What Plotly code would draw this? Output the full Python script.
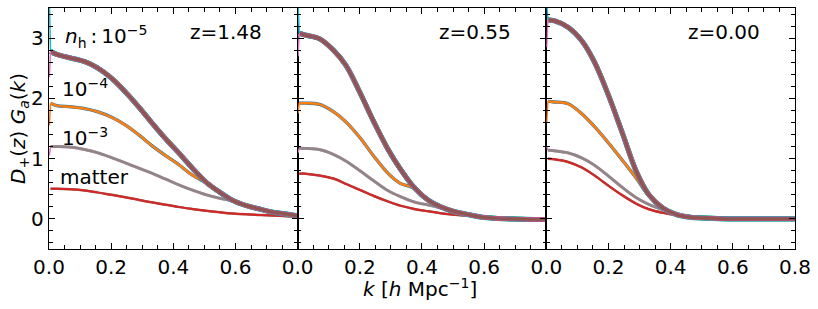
import plotly.graph_objects as go

# ---------------- data ----------------
K = [0.005, 0.025, 0.07, 0.115, 0.155, 0.2, 0.245, 0.29, 0.33, 0.375,
     0.42, 0.46, 0.505, 0.55, 0.59, 0.635, 0.68, 0.72, 0.765, 0.8]
K_LOW = 0.0012  # first (noisy) k bin

REDSHIFTS = ["z=1.48", "z=0.55", "z=0.00"]

# n_h = 1e-5 (noisy band of realisations)
NH5 = [
    [2.78, 2.73, 2.67, 2.61, 2.51, 2.34, 2.11, 1.85, 1.60, 1.33,
     1.08, 0.85, 0.61, 0.44, 0.31, 0.22, 0.16, 0.11, 0.08, 0.05],
    [3.08, 3.05, 2.99, 2.80, 2.55, 2.10, 1.61, 1.16, 0.83, 0.52,
     0.31, 0.20, 0.12, 0.07, 0.03, 0.01, 0.0, -0.005, -0.01, -0.01],
    [3.30, 3.29, 3.18, 2.95, 2.60, 2.05, 1.42, 0.78, 0.40, 0.18,
     0.07, 0.03, 0.015, 0.005, 0.0, 0.0, 0.0, 0.0, 0.0, 0.0],
]
# n_h = 1e-4
NH4 = [
    [1.92, 1.88, 1.86, 1.83, 1.78, 1.69, 1.56, 1.39, 1.22, 1.05,
     0.89, 0.73, 0.60, 0.43, 0.30, 0.21, 0.15, 0.10, 0.07, 0.045],
    [1.92, 1.92, 1.90, 1.78, 1.61, 1.35, 1.04, 0.76, 0.59, 0.51,
     0.30, 0.19, 0.11, 0.06, 0.025, 0.01, 0.0, -0.005, -0.01, -0.01],
    [1.95, 1.94, 1.91, 1.74, 1.53, 1.26, 0.97, 0.67, 0.38, 0.17,
     0.07, 0.03, 0.015, 0.005, 0.0, 0.0, 0.0, 0.0, 0.0, 0.0],
]
# n_h = 1e-3
NH3 = [
    [1.20, 1.20, 1.19, 1.15, 1.10, 1.02, 0.93, 0.84, 0.76, 0.66,
     0.56, 0.48, 0.40, 0.34, 0.30, 0.21, 0.15, 0.10, 0.07, 0.045],
    [1.17, 1.17, 1.15, 1.07, 0.96, 0.80, 0.63, 0.47, 0.37, 0.28,
     0.23, 0.18, 0.11, 0.06, 0.025, 0.01, 0.0, -0.005, -0.01, -0.01],
    [1.14, 1.13, 1.095, 1.01, 0.89, 0.71, 0.52, 0.35, 0.24, 0.15,
     0.08, 0.04, 0.02, 0.008, 0.0, 0.0, 0.0, 0.0, 0.0, 0.0],
]
# matter
MATTER = [
    [0.50, 0.50, 0.49, 0.47, 0.44, 0.40, 0.36, 0.315, 0.275, 0.235,
     0.195, 0.165, 0.135, 0.11, 0.09, 0.075, 0.065, 0.055, 0.045, 0.04],
    [0.75, 0.75, 0.72, 0.67, 0.58, 0.48, 0.38, 0.29, 0.22, 0.165,
     0.125, 0.095, 0.07, 0.05, 0.035, 0.02, 0.01, 0.005, 0.0, 0.0],
    [1.00, 0.99, 0.945, 0.85, 0.72, 0.55, 0.39, 0.25, 0.16, 0.10,
     0.06, 0.035, 0.02, 0.008, 0.0, 0.0, 0.0, 0.0, 0.0, 0.0],
]
# values in the first, noisy k bin
NH5_SPIKE_HI = [3.6, 3.6, 3.6]
NH5_SPIKE_LO = [2.35, 2.70, 2.85]
NH4_SPIKE_LO = [1.55, 1.75, 1.60]
NH3_SPIKE_LO = [1.05, 1.10, 1.20]

X_TICKS = [0.0, 0.2, 0.4, 0.6, 0.8]
Y_TICKS = [0, 1, 2, 3]
LABELS_NH = ["<i>n</i><sub>h</sub>\u2009:\u200910<sup>−5</sup>", "10<sup>−4</sup>",
             "10<sup>−3</sup>", "matter"]
LABEL_Y = [3.02, 2.17, 1.36, 0.70]
LABEL_X = [0.045, 0.035, 0.035, 0.03]

# ---------------- figure ----------------
FONT = "DejaVu Sans"
FS = 20
fig = go.Figure()

band_layers = [("#17becf", 5.2), ("#2ca02c", 4.9), ("#1f77b4", 4.6),
               ("#e377c2", 4.3), ("#d62728", 3.8), ("#9467bd", 3.3),
               ("#8c564b", 2.7)]
orange_layers = [("#1f77b4", 3.3), ("#ff7f0e", 2.5)]
grey_layers = [("#c79ab4", 3.0), ("#918687", 2.7)]
red_layers = [("#8c564b", 2.5), ("#d62728", 2.0)]


def add_line(i, xs, ys, color, width, shape="spline"):
    ax = "" if i == 0 else str(i + 1)
    fig.add_trace(go.Scatter(
        x=xs, y=ys, mode="lines", xaxis="x" + ax, yaxis="y" + ax,
        line=dict(color=color, width=width, shape=shape, smoothing=1.0),
        showlegend=False, hoverinfo="skip"))


for i in range(3):
    for c, w in red_layers:
        add_line(i, K, MATTER[i], c, w)
    for c, w in grey_layers:
        add_line(i, K, NH3[i], c, w)
    add_line(i, [K_LOW, K[0]], [NH3_SPIKE_LO[i], NH3[i][0]], "#e377c2", 1.5, "linear")
    for c, w in orange_layers:
        add_line(i, K, NH4[i], c, w)
    add_line(i, [K_LOW, K[0]], [NH4_SPIKE_LO[i], NH4[i][0]], "#ff7f0e", 1.5, "linear")
    for c, w in band_layers:
        add_line(i, K, NH5[i], c, w)
    add_line(i, [K_LOW, K[0]], [NH5_SPIKE_HI[i], NH5[i][0]], "#17becf", 1.5, "linear")
    add_line(i, [K_LOW, K[0]], [NH5_SPIKE_LO[i], NH5[i][0]], "#e377c2", 1.5, "linear")

axis_common = dict(
    showline=True, linecolor="black", linewidth=1.3, mirror="allticks",
    ticks="inside", ticklen=6, tickwidth=1.2, tickcolor="black",
    showgrid=False, zeroline=False, ticklabeloverflow="allow",
    tickfont=dict(family=FONT, size=FS, color="black"),
)

layout = dict(
    width=818, height=309,
    margin=dict(l=49, r=23, t=8, b=60),
    paper_bgcolor="white", plot_bgcolor="white",
    font=dict(family=FONT, color="black"),
    showlegend=False,
)
for i in range(3):
    ax = "" if i == 0 else str(i + 1)
    vals = X_TICKS if i == 2 else X_TICKS[:-1]
    layout["xaxis" + ax] = dict(
        axis_common, domain=[i / 3, (i + 1) / 3], range=[0, 0.8],
        tickvals=vals, ticktext=[f"{v:.1f}" for v in vals], anchor="y" + ax,
        minor=dict(dtick=0.05, tick0=0, ticks="inside", ticklen=3.5,
                   tickwidth=1, tickcolor="black"))
    layout["yaxis" + ax] = dict(
        axis_common, range=[-0.5, 3.5], tickvals=Y_TICKS,
        ticktext=[str(v) for v in Y_TICKS], anchor="x" + ax,
        showticklabels=(i == 0),
        minor=dict(dtick=0.2, tick0=0, ticks="inside", ticklen=3.5,
                   tickwidth=1, tickcolor="black"))
fig.update_layout(**layout)

# redshift labels
for i in range(3):
    ax = "" if i == 0 else str(i + 1)
    fig.add_annotation(x=0.57, y=3.1, xref="x" + ax, yref="y" + ax,
                       text=REDSHIFTS[i], showarrow=False,
                       font=dict(family=FONT, size=FS, color="black"),
                       xanchor="center", yanchor="middle")

# n_h labels (panel 1)
for t, x, y in zip(LABELS_NH, LABEL_X, LABEL_Y):
    fig.add_annotation(x=x, y=y, xref="x", yref="y", text=t, showarrow=False,
                       font=dict(family=FONT, size=FS, color="black"),
                       xanchor="left", yanchor="middle")

# axis titles
fig.add_annotation(x=0.497, y=-0.162, xref="paper", yref="paper",
                   text="<i>k</i> [<i>h</i> Mpc<sup>−1</sup>]", showarrow=False,
                   font=dict(family=FONT, size=FS, color="black"),
                   xanchor="center", yanchor="middle")
fig.add_annotation(x=-0.041, y=0.5, xref="paper", yref="paper",
                   text="<i>D</i><sub>+</sub>(<i>z</i>) <i>G</i><sub><i>a</i></sub>(<i>k</i>)",
                   showarrow=False, textangle=-90,
                   font=dict(family=FONT, size=FS, color="black"),
                   xanchor="center", yanchor="middle")

fig.write_html("out.html", config={"displayModeBar": False},
               post_script="document.body.style.margin='0px';")
